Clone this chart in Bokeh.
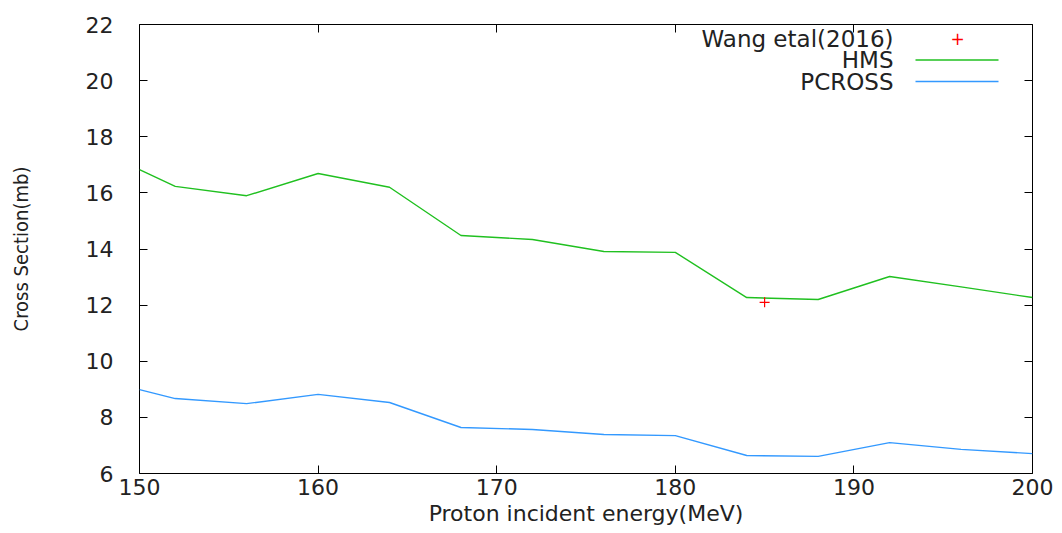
from bokeh.plotting import figure
from bokeh.models import (Range1d, LinearAxis, FixedTicker, Label, BoxAnnotation)
from bokeh.embed import file_html
from bokeh.resources import INLINE

# Cross sections (mb) versus proton incident energy (MeV)
energy = [150, 152, 156, 160, 164, 168, 172, 176, 180, 184, 188, 192, 196, 200]
hms = [16.83, 16.23, 15.90, 16.69, 16.20, 14.48, 14.34, 13.91, 13.88, 12.27, 12.20, 13.02, 12.65, 12.27]
pcross = [8.99, 8.67, 8.49, 8.82, 8.53, 7.64, 7.57, 7.39, 7.35, 6.64, 6.61, 7.10, 6.86, 6.71]
exp_energy = [185]
exp_xs = [12.1]

x_ticks = [150, 160, 170, 180, 190, 200]
y_ticks = [6, 8, 10, 12, 14, 16, 18, 20, 22]

GREEN = "#20c020"
BLUE = "#3399ff"
RED = "#ff0000"
FONT = "DejaVu Sans"
INK = "#222222"

p = figure(width=1062, height=533, output_backend="svg", toolbar_location=None,
           x_range=Range1d(150, 200), y_range=Range1d(6, 22),
           min_border_left=139, min_border_right=30, min_border_top=24,
           min_border_bottom=60)
p.background_fill_color = "white"
p.border_fill_color = "white"
p.outline_line_color = "black"
p.outline_line_width = 1
p.grid.visible = False

p.line(energy, hms, line_color=GREEN, line_width=1.4)
p.line(energy, pcross, line_color=BLUE, line_width=1.4)
p.scatter(exp_energy, exp_xs, marker="cross", size=10, line_color=RED, line_width=1.2)

def style_axis(ax, ticks, labels=True):
    ax.ticker = FixedTicker(ticks=ticks)
    ax.major_tick_in = 8
    ax.major_tick_out = 0
    ax.minor_tick_line_color = None
    ax.axis_line_color = None
    ax.major_tick_line_color = "black"
    ax.major_label_text_font = FONT
    ax.major_label_text_font_size = "22px"
    ax.major_label_text_color = INK
    if not labels:
        ax.major_label_overrides = {t: "" for t in ticks}
        ax.major_label_standoff = 0

style_axis(p.xaxis[0], x_ticks)
style_axis(p.yaxis[0], y_ticks)
p.xaxis[0].major_label_standoff = 5
p.yaxis[0].major_label_standoff = 26
p.xaxis[0].axis_label = "Proton incident energy(MeV)"
p.xaxis[0].axis_label_text_font = FONT
p.xaxis[0].axis_label_text_font_size = "22px"
p.xaxis[0].axis_label_text_font_style = "normal"
p.xaxis[0].axis_label_text_color = INK
p.xaxis[0].axis_label_standoff = 3
p.yaxis[0].axis_label = "Cross Section(mb)"
p.yaxis[0].axis_label_text_font = "DejaVu Sans Condensed"
p.yaxis[0].axis_label_text_font_size = "20px"
p.yaxis[0].axis_label_text_font_style = "normal"
p.yaxis[0].axis_label_text_color = INK
p.yaxis[0].axis_label_standoff = 50

# mirrored tick marks on the top and right edges
top_ax = LinearAxis()
style_axis(top_ax, x_ticks, labels=False)
p.add_layout(top_ax, "above")
right_ax = LinearAxis()
style_axis(right_ax, y_ticks, labels=False)
p.add_layout(right_ax, "right")

# key in the upper right corner: label, then a sample of the mark
# (screen offsets measured from the frame's lower-left corner)
key_rows = [("Wang etal(2016)", "marker", RED),
            ("HMS", "line", GREEN),
            ("PCROSS", "line", BLUE)]
for i, (name, kind, color) in enumerate(key_rows):
    ys = 435 - i * 21.5
    p.add_layout(Label(x=754, y=ys, x_units="screen", y_units="screen",
                       text=name, text_align="right", text_baseline="middle",
                       text_font=FONT, text_font_size="23px", text_color=INK))
    if kind == "line":
        p.add_layout(BoxAnnotation(left=776, right=859,
                                   bottom=ys - 0.7, top=ys + 0.7,
                                   left_units="screen", right_units="screen",
                                   bottom_units="screen", top_units="screen",
                                   fill_color=color, fill_alpha=1, line_color=None))
    else:
        p.add_layout(Label(x=818, y=ys, x_units="screen", y_units="screen",
                           text="+", text_align="center", text_baseline="middle",
                           text_font=FONT, text_font_size="17px", text_color=color))

open("out.html", "w").write(file_html(p, INLINE))
